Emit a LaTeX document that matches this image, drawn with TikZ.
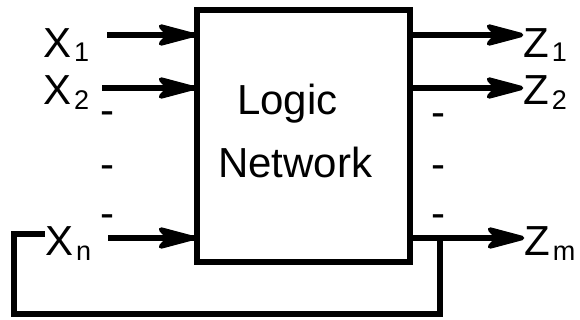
\documentclass[tikz,border=0pt]{standalone}
\usepackage{fontspec}
\setmainfont{Liberation Sans}
\newcommand\mainsz{\fontsize{42}{50}\selectfont}
\newcommand\subsz{\fontsize{27}{30}\selectfont}
\newcommand\sublbl[3]{#1\kern3pt\raisebox{-#3}{\subsz #2}}
\begin{document}
\begin{tikzpicture}[x=1pt,y=-1pt,
  wire/.style={line width=6pt},
  lbl/.style={inner sep=0pt, anchor=base west, font=\mainsz},
  gapmark/.style={inner sep=0pt, anchor=base, font=\mainsz},
  % swept-back arrowhead, tip at the pic origin, pointing right
  head/.pic={\filldraw[line width=4.5pt, line join=round]
    (0,0) -- (-32,-8.5) -- (-24,0) -- (-32,8.5) -- cycle;}]
\useasboundingbox (0,0) rectangle (580,320);

% the logic block
\node[draw, line width=6pt, minimum width=213pt, minimum height=252pt, inner sep=0pt] (net) at (303.5,136) {};
\node[lbl] (t1) at (237,115) {Logic};
\node[lbl] (t2) at (218,178) {Network};

% input and output labels
\node[lbl] (x1) at (43,58)  {\sublbl{X}{1}{4pt}};
\node[lbl] (x2) at (43,105) {\sublbl{X}{2}{5pt}};
\node[lbl] (xn) at (45,255) {\sublbl{X}{n}{5pt}};
\node[lbl] (z1) at (523,58)  {\sublbl{Z}{1}{4pt}};
\node[lbl] (z2) at (523,105) {\sublbl{Z}{2}{5pt}};
\node[lbl] (zm) at (524,255) {\sublbl{Z}{m}{5pt}};

% elision marks between the lines
\node[gapmark] (dl1) at (107,125) {-};
\node[gapmark] (dl2) at (107,179) {-};
\node[gapmark] (dl3) at (107,227) {-};
\node[gapmark] (dr1) at (438,127) {-};
\node[gapmark] (dr2) at (438,179) {-};
\node[gapmark] (dr3) at (438,227) {-};

% inputs
\coordinate (i1) at (107,35);
\coordinate (i2) at (102,88);
\coordinate (in) at (108,238);
\foreach \c in {i1,i2,in} {
  \draw[wire] (\c) -- (\c -| net.west);
  \pic at ([xshift=-1pt]\c -| net.west) {head};
}

% outputs
\foreach \c/\z in {i1/z1,i2/z2,in/zm} {
  \draw[wire] (net.east |- \c) -- ([xshift=-20pt]\z.west |- \c);
  \pic at ([xshift=-2pt]\z.west |- \c) {head};
}

% feedback from the last output back to the last input
\coordinate (tap) at (440,238);
\coordinate (ret) at (14,234);
\draw[wire, line join=miter] (tap) -- (440,314) -| (ret) -- (xn.west |- ret);
\end{tikzpicture}
\end{document}
